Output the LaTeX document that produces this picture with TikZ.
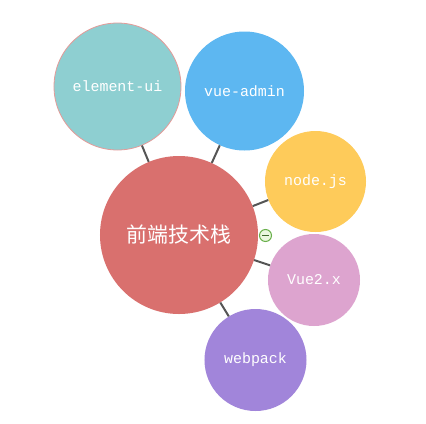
\documentclass[tikz,border=0pt]{standalone}
\usepackage{fontspec}
\setmonofont{Liberation Mono}
\newfontfamily\cjk{Noto Sans CJK SC}
\usepackage{tikz}
\usetikzlibrary{calc,positioning}

\definecolor{corered}{HTML}{D9706E}
\definecolor{teal}{HTML}{8ECFD1}
\definecolor{skyblue}{HTML}{5DB7F1}
\definecolor{amber}{HTML}{FECB5A}
\definecolor{orchid}{HTML}{DDA4CF}
\definecolor{lavender}{HTML}{A185DA}
\definecolor{linkgray}{HTML}{555555}
\definecolor{togglegreen}{HTML}{6AB04C}
\definecolor{togglefill}{HTML}{EAF6DF}

\tikzset{
  bubble/.style={circle,inner sep=0pt,text=white,font=\fontsize{15}{18}\selectfont\ttfamily},
  link/.style={draw=linkgray,line width=2bp}
}

\begin{document}
\begin{tikzpicture}[x=1bp,y=-1bp]

    \useasboundingbox [fill=white] (0,0) rectangle (426,424);

    \node (core)      [bubble,fill=corered,minimum size=158bp,font=\fontsize{21}{25}\selectfont\cjk] at (179,235) {前端技术栈};
    \node (elementui) [bubble,fill=teal,draw=corered!70!white,line width=0.8bp,minimum size=127bp] at (117.5,86.5) {element-ui};
    \node (vueadmin)  [bubble,fill=skyblue,minimum size=119bp] at (244.5,91) {vue-admin};
    \node (nodejs)    [bubble,fill=amber,minimum size=101bp] at (315.5,181.5) {node.js};
    \node (vuetwo)    [bubble,fill=orchid,minimum size=92bp] at (314,280) {Vue2.x};
    \node (webpack)   [bubble,fill=lavender,minimum size=102bp] at (255.5,360) {webpack};

    \draw [link] (core) -- (elementui);
    \draw [link] (core) -- (vueadmin);
    \draw [link] (core) -- (nodejs);
    \draw [link] (core) -- (vuetwo);
    \draw [link] (core) -- (webpack);

    % collapse toggle
    \node (toggle) [circle,inner sep=0pt,minimum size=12bp,draw=togglegreen,fill=togglefill,line width=1bp] at (265.5,235.5) {};
    \draw [togglegreen!60!black,line width=1.2bp] ($ (toggle.center) + (-3.5,0) $) -- +(7,0);

  \end{tikzpicture}
\end{document}
